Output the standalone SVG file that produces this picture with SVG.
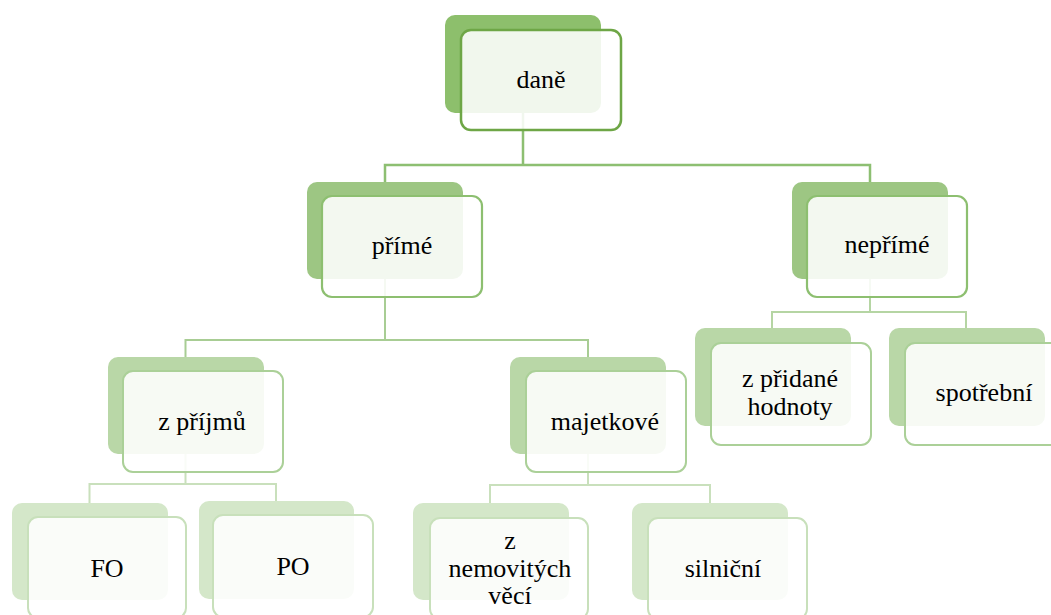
<svg xmlns="http://www.w3.org/2000/svg" width="1051" height="615" viewBox="0 0 1051 615">
<style>
.bk{stroke:none}
.fr{fill:#ffffff;fill-opacity:0.88}
.l0 .bk{fill:#8dbf6c}.l0 .fr{stroke:#6ea646;stroke-width:2.5}
.l1 .bk{fill:#9dc683}.l1 .fr{stroke:#8dbf70;stroke-width:2.2}
.l2 .bk{fill:#b9d7a7}.l2 .fr{stroke:#abd098;stroke-width:2}
.l3 .bk{fill:#d4e7c9}.l3 .fr{stroke:#c8e0bb;stroke-width:2}
.c{fill:none}
</style>
<rect width="1051" height="615" fill="#ffffff"/>
<g id="connectors">
<path class="c" stroke="#8dbf72" stroke-width="2.5" d="M523,113 V165 M385,182 V165 H870 V182"/>
<path class="c" stroke="#a8cd94" stroke-width="2" d="M385,279 V340 M185.5,357 V340 H588 V357"/>
<path class="c" stroke="#b5d5a3" stroke-width="2" d="M870,279 V312 M772,328 V312 H966 V328"/>
<path class="c" stroke="#c9e0bc" stroke-width="2" d="M185.5,454 V484 M89.5,503 V484 H276 V501"/>
<path class="c" stroke="#c9e0bc" stroke-width="2" d="M588,454 V485 M490,503 V485 H710 V503"/>
</g>
<g font-family="'Liberation Serif', 'DejaVu Serif', 'Times New Roman', serif" font-size="26" fill="#000000" text-anchor="middle">
<g id="dane" class="l0">
<rect class="bk" x="445" y="15" width="156" height="98" rx="10"/>
<rect class="fr" x="461" y="30" width="160" height="100" rx="10"/>
<text x="541" y="88">daně</text>
</g>
<g id="prime" class="l1">
<rect class="bk" x="307" y="182" width="156" height="97" rx="10"/>
<rect class="fr" x="322" y="196" width="160" height="101" rx="10"/>
<text x="402" y="254">přímé</text>
</g>
<g id="neprime" class="l1">
<rect class="bk" x="792" y="182" width="156" height="97" rx="10"/>
<rect class="fr" x="807" y="196" width="160" height="101" rx="10"/>
<text x="887" y="253">nepřímé</text>
</g>
<g id="zprijmu" class="l2">
<rect class="bk" x="108" y="357" width="156" height="97" rx="10"/>
<rect class="fr" x="123" y="371" width="160" height="101" rx="10"/>
<text x="202" y="430">z příjmů</text>
</g>
<g id="majetkove" class="l2">
<rect class="bk" x="510" y="357" width="156" height="97" rx="10"/>
<rect class="fr" x="526" y="371" width="160" height="101" rx="10"/>
<text x="605" y="430">majetkové</text>
</g>
<g id="zpridane" class="l2">
<rect class="bk" x="695" y="328" width="156" height="98" rx="10"/>
<rect class="fr" x="711" y="343" width="160" height="102" rx="10"/>
<text x="790" y="387">z přidané</text>
<text x="790" y="415">hodnoty</text>
</g>
<g id="spotrebni" class="l2">
<rect class="bk" x="889" y="328" width="156" height="98" rx="10"/>
<rect class="fr" x="905" y="343" width="160" height="102" rx="10"/>
<text x="984" y="401">spotřební</text>
</g>
<g id="fo" class="l3">
<rect class="bk" x="12" y="503" width="156" height="97" rx="10"/>
<rect class="fr" x="28" y="517" width="158" height="101" rx="10"/>
<text x="107" y="577">FO</text>
</g>
<g id="po" class="l3">
<rect class="bk" x="199" y="501" width="155" height="98" rx="10"/>
<rect class="fr" x="213" y="515" width="160" height="102" rx="10"/>
<text x="293" y="575">PO</text>
</g>
<g id="nemovitych" class="l3">
<rect class="bk" x="413" y="503" width="156" height="97" rx="10"/>
<rect class="fr" x="430" y="518" width="158" height="101" rx="10"/>
<text x="510" y="549">z</text>
<text x="510" y="577">nemovitých</text>
<text x="510" y="604">věcí</text>
</g>
<g id="silnicni" class="l3">
<rect class="bk" x="632" y="503" width="156" height="97" rx="10"/>
<rect class="fr" x="648" y="518" width="159" height="101" rx="10"/>
<text x="723" y="577">silniční</text>
</g>
</g>
</svg>
